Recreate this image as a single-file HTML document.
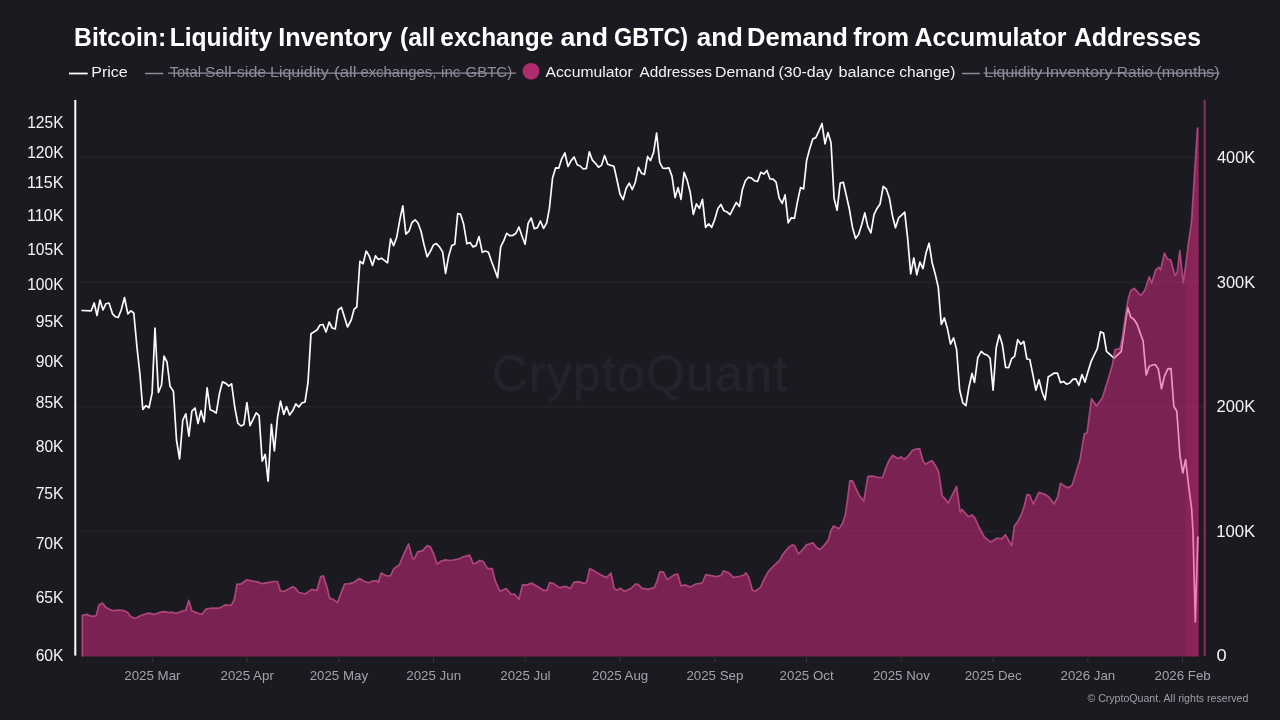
<!DOCTYPE html>
<html lang="en"><head><meta charset="utf-8"><title>Bitcoin: Liquidity Inventory and Demand from Accumulator Addresses</title>
<style>
html,body{margin:0;padding:0;background:#1b1a20;}
body{width:1280px;height:720px;overflow:hidden;font-family:"Liberation Sans",sans-serif;}
svg{display:block}
text{font-family:"Liberation Sans",sans-serif;}
.title{font-size:25.8px;font-weight:700;fill:#ffffff;}
.leg{font-size:15.3px;fill:#f2f2f4;}
.legoff{font-size:15.3px;fill:#8d8c9c;}
.yl{font-size:16px;fill:#f4f4f6;}
.yl2{font-size:16.2px;fill:#f4f4f6;}
.xl{font-size:13.3px;fill:#a3a2aa;}
.foot{font-size:10.6px;fill:#a09fa8;}
.wm{font-size:50px;fill:#23232c;stroke:#23232c;stroke-width:0.8px;letter-spacing:1.2px;}
</style></head><body>
<svg width="1280" height="720" viewBox="0 0 1280 720">
<rect width="1280" height="720" fill="#1b1a20"/>
<g id="title">
<text class="title" x="74.12" y="45.6" textLength="92.05" lengthAdjust="spacingAndGlyphs">Bitcoin:</text>
<text class="title" x="169.63" y="45.6" textLength="102.55" lengthAdjust="spacingAndGlyphs">Liquidity</text>
<text class="title" x="278.33" y="45.6" textLength="113.79" lengthAdjust="spacingAndGlyphs">Inventory</text>
<text class="title" x="400.01" y="45.6" textLength="35.43" lengthAdjust="spacingAndGlyphs">(all</text>
<text class="title" x="440.30" y="45.6" textLength="112.98" lengthAdjust="spacingAndGlyphs">exchange</text>
<text class="title" x="560.53" y="45.6" textLength="47.45" lengthAdjust="spacingAndGlyphs">and</text>
<text class="title" x="614.09" y="45.6" textLength="74.07" lengthAdjust="spacingAndGlyphs">GBTC)</text>
<text class="title" x="696.80" y="45.6" textLength="46.13" lengthAdjust="spacingAndGlyphs">and</text>
<text class="title" x="747.07" y="45.6" textLength="100.86" lengthAdjust="spacingAndGlyphs">Demand</text>
<text class="title" x="853.36" y="45.6" textLength="55.63" lengthAdjust="spacingAndGlyphs">from</text>
<text class="title" x="914.42" y="45.6" textLength="152.12" lengthAdjust="spacingAndGlyphs">Accumulator</text>
<text class="title" x="1073.92" y="45.6" textLength="127.07" lengthAdjust="spacingAndGlyphs">Addresses</text>
</g>
<g id="legend">
<line x1="69" y1="73.5" x2="87.7" y2="73.5" stroke="#ffffff" stroke-width="1.8"/>
<text class="leg" x="91.24" y="77.4" textLength="36.55" lengthAdjust="spacingAndGlyphs">Price</text>
<text class="leg" x="545.50" y="77.4" textLength="87.24" lengthAdjust="spacingAndGlyphs">Accumulator</text>
<text class="leg" x="639.50" y="77.4" textLength="72.34" lengthAdjust="spacingAndGlyphs">Addresses</text>
<text class="leg" x="715.01" y="77.4" textLength="59.81" lengthAdjust="spacingAndGlyphs">Demand</text>
<text class="leg" x="778.56" y="77.4" textLength="54.02" lengthAdjust="spacingAndGlyphs">(30-day</text>
<text class="leg" x="838.44" y="77.4" textLength="56.80" lengthAdjust="spacingAndGlyphs">balance</text>
<text class="leg" x="899.39" y="77.4" textLength="56.01" lengthAdjust="spacingAndGlyphs">change)</text>
<line x1="145" y1="73.5" x2="163.3" y2="73.5" stroke="#8d8c9c" stroke-width="1.5"/>
<text class="legoff" x="169.71" y="77.4" textLength="31.28" lengthAdjust="spacingAndGlyphs">Total</text>
<text class="legoff" x="204.77" y="77.4" textLength="61.44" lengthAdjust="spacingAndGlyphs">Sell-side</text>
<text class="legoff" x="269.99" y="77.4" textLength="58.79" lengthAdjust="spacingAndGlyphs">Liquidity</text>
<text class="legoff" x="334.00" y="77.4" textLength="22.61" lengthAdjust="spacingAndGlyphs">(all</text>
<text class="legoff" x="360.42" y="77.4" textLength="75.90" lengthAdjust="spacingAndGlyphs">exchanges,</text>
<text class="legoff" x="441.01" y="77.4" textLength="19.45" lengthAdjust="spacingAndGlyphs">inc</text>
<text class="legoff" x="465.47" y="77.4" textLength="46.66" lengthAdjust="spacingAndGlyphs">GBTC)</text>
<text class="legoff" x="984.25" y="77.4" textLength="58.28" lengthAdjust="spacingAndGlyphs">Liquidity</text>
<text class="legoff" x="1045.51" y="77.4" textLength="67.03" lengthAdjust="spacingAndGlyphs">Inventory</text>
<text class="legoff" x="1116.78" y="77.4" textLength="36.35" lengthAdjust="spacingAndGlyphs">Ratio</text>
<text class="legoff" x="1156.56" y="77.4" textLength="63.10" lengthAdjust="spacingAndGlyphs">(months)</text>
<line x1="168" y1="73.2" x2="516" y2="73.2" stroke="#8d8c9c" stroke-width="1.2"/>
<circle cx="531" cy="71.3" r="8.4" fill="#ac2d6d"/>
<line x1="962" y1="73.5" x2="980" y2="73.5" stroke="#8d8c9c" stroke-width="1.5"/>
<line x1="983.5" y1="73.2" x2="1219.5" y2="73.2" stroke="#8d8c9c" stroke-width="1.2"/>
</g>
<g stroke="#232229" stroke-width="1.6">
<line x1="77" y1="157.3" x2="1203" y2="157.3"/>
<line x1="77" y1="282.3" x2="1203" y2="282.3"/>
<line x1="77" y1="406.8" x2="1203" y2="406.8"/>
<line x1="77" y1="531.4" x2="1203" y2="531.4"/>
</g>
<text class="wm" x="640" y="390.5" text-anchor="middle">CryptoQuant</text>
<polyline fill="none" stroke="#fbfbfd" stroke-width="1.7" stroke-linejoin="round" stroke-linecap="round" points="82.0,310.5 91.2,310.8 94.2,303.0 97.0,315.5 100.0,300.0 103.0,310.0 105.8,303.8 109.0,303.0 112.5,313.8 115.5,316.8 118.2,317.5 121.2,310.0 124.5,297.5 127.8,313.8 130.8,310.8 133.8,313.0 137.0,347.5 140.0,375.0 142.8,409.4 145.9,405.6 149.0,407.8 152.1,393.1 155.0,328.0 158.4,392.5 161.5,385.0 164.0,356.2 167.0,362.0 170.0,386.2 173.4,391.2 176.5,440.0 179.6,459.0 182.8,420.0 185.8,413.8 188.9,436.2 191.9,411.2 195.0,408.0 198.0,423.5 201.0,410.6 204.1,421.9 207.1,387.8 210.2,409.8 213.2,411.0 216.2,413.1 219.4,393.8 222.5,381.9 225.5,383.1 228.8,386.0 231.6,383.8 234.8,407.5 237.8,423.1 240.9,426.0 243.9,424.4 246.9,402.5 250.0,425.6 253.1,419.4 256.2,412.8 259.1,415.6 262.2,461.2 265.2,454.4 268.1,481.2 271.4,424.4 274.4,450.8 277.5,417.5 280.5,401.2 283.8,414.4 286.5,406.5 289.6,415.0 292.8,410.6 295.8,403.8 298.8,407.0 301.8,403.0 305.0,402.0 308.0,382.5 311.0,333.8 317.0,330.0 320.0,325.0 323.0,324.5 326.0,332.0 329.2,322.0 332.2,328.0 335.2,329.0 338.2,310.0 341.5,307.5 347.5,327.0 351.2,320.0 354.1,309.2 356.8,307.0 359.9,261.3 363.1,263.7 366.2,251.0 369.2,255.9 372.5,265.5 375.4,255.9 378.3,259.5 381.4,258.2 384.4,260.4 387.5,262.8 390.6,238.8 393.6,245.6 396.7,237.3 399.8,219.8 402.8,205.9 405.9,234.2 409.0,231.2 412.0,222.5 415.1,219.8 418.0,223.0 421.1,231.5 424.1,245.1 427.2,256.8 430.3,251.4 433.4,245.1 436.4,243.6 439.5,246.9 442.6,251.9 445.6,273.4 448.7,255.9 451.8,245.6 454.8,244.2 457.7,213.5 460.6,214.4 463.7,224.3 466.9,243.8 470.0,242.4 473.1,246.9 476.1,245.6 479.0,236.6 482.3,252.3 485.4,251.0 488.4,252.3 491.5,261.3 494.6,269.5 497.6,277.6 500.7,246.9 503.8,240.6 506.7,233.3 509.7,235.7 512.8,235.5 515.9,233.3 518.9,227.0 522.0,236.0 525.1,244.2 528.1,223.4 531.2,218.0 534.3,228.8 537.4,227.6 540.4,221.0 543.6,228.3 546.7,222.9 549.4,208.4 552.6,177.7 555.7,167.8 558.8,168.1 561.7,158.8 564.9,153.0 568.0,166.5 571.1,160.6 574.1,157.0 577.2,164.7 580.1,166.0 583.3,169.0 586.4,168.3 589.3,151.9 592.4,160.2 595.4,163.3 598.5,167.2 601.6,165.1 604.6,155.5 607.7,164.2 610.8,165.4 613.9,166.3 616.9,179.5 620.0,194.0 623.1,199.7 626.1,188.5 629.2,183.1 632.3,189.5 635.3,182.2 638.4,167.4 641.5,173.2 644.5,174.5 647.6,156.4 650.5,160.6 653.6,152.4 656.6,133.1 659.7,162.4 662.8,168.1 665.9,168.3 668.9,167.8 672.0,176.4 675.1,197.6 678.1,187.6 681.0,199.4 684.1,172.3 687.2,180.4 690.2,192.2 693.3,214.4 696.4,203.9 699.4,208.4 702.5,199.4 705.6,227.4 708.7,223.8 711.7,227.4 714.8,219.2 717.9,208.4 720.9,204.4 724.0,210.8 727.1,212.0 730.1,214.7 733.2,208.4 736.3,202.5 739.4,206.6 742.4,189.5 745.4,180.8 748.5,177.2 751.6,178.1 754.6,180.8 757.7,181.3 760.8,172.3 763.8,174.1 766.9,170.5 770.0,179.0 773.0,179.2 776.1,182.2 779.2,198.1 782.2,203.4 785.1,194.9 788.2,222.9 791.3,217.8 794.4,218.3 797.4,202.1 800.5,187.6 803.6,188.9 806.6,160.6 809.7,148.8 812.8,138.9 815.8,137.6 818.9,130.8 822.0,123.5 825.0,143.8 827.9,132.6 831.0,142.5 834.1,198.5 837.1,210.2 840.2,183.1 843.3,182.2 846.4,195.8 849.4,209.3 852.5,227.4 855.6,238.6 858.6,234.6 861.7,224.7 864.8,212.9 867.8,226.5 870.9,232.8 874.0,214.7 877.0,208.4 880.1,203.9 883.2,186.3 886.3,189.0 889.4,198.0 892.5,216.1 895.5,227.8 898.6,217.9 901.7,215.2 904.7,212.1 907.6,237.8 910.7,273.9 913.8,258.0 916.8,274.8 919.9,262.2 923.0,268.5 926.0,253.1 929.1,243.2 932.2,263.1 935.2,273.9 938.3,287.4 941.3,324.3 944.4,318.0 947.5,328.8 950.5,344.2 953.6,337.9 956.6,349.6 959.7,390.2 962.8,402.9 965.9,405.6 968.9,387.5 972.0,373.4 974.5,382.5 977.8,357.7 981.2,351.4 984.3,354.1 987.2,355.0 990.1,358.3 993.1,390.2 996.2,347.8 999.3,334.8 1002.3,344.2 1005.6,367.3 1008.7,367.6 1011.7,358.6 1014.6,356.4 1017.7,339.7 1020.8,344.2 1023.8,341.5 1026.9,359.0 1029.8,359.5 1032.9,374.9 1035.9,390.2 1039.0,379.7 1042.1,392.0 1045.1,399.8 1048.2,377.0 1051.3,374.9 1054.3,373.1 1057.4,373.1 1060.5,382.6 1063.5,381.5 1066.6,384.2 1069.7,383.0 1072.8,379.4 1075.8,378.8 1078.9,385.3 1082.0,374.5 1085.0,382.1 1088.1,371.2 1091.2,361.3 1094.2,355.0 1097.3,348.7 1100.4,331.9 1103.5,333.0 1106.5,351.4 1109.6,354.1 1112.7,357.0 1114.3,358.2 1117.8,354.6 1121.3,351.5 1124.7,327.0 1127.7,307.5 1130.6,317.0 1133.8,319.2 1137.0,324.0 1140.0,332.5 1143.1,341.0 1146.2,375.0 1149.3,366.2 1152.5,365.0 1155.3,364.5 1158.3,369.0 1161.5,388.8 1164.5,376.2 1167.8,368.8 1171.0,368.6 1173.8,406.2 1176.8,411.2 1180.0,456.0 1182.8,473.0 1185.6,459.5 1188.8,487.2 1191.7,509.4 1193.0,531.7 1195.3,622.0 1197.8,537.2"/>
<polygon fill="#df2a84" fill-opacity="0.49" points="82.3,656.4 82.3,615.4 87.2,614.3 90.2,616.1 96.2,615.8 98.9,604.9 102.5,603.1 106.1,607.6 112.4,610.7 118.8,610.0 124.2,610.7 127.4,612.2 130.5,616.3 135.0,618.5 141.3,615.2 148.5,613.1 154.9,614.3 161.2,611.8 164.8,611.6 168.4,612.5 172.0,612.2 176.5,613.4 181.9,611.2 185.6,610.4 188.8,600.4 191.9,610.7 197.3,613.1 201.8,614.3 206.3,608.9 212.7,608.0 219.0,608.2 225.3,604.9 231.2,605.5 234.3,599.5 237.0,584.2 240.6,584.2 246.9,579.7 252.4,581.1 257.8,581.8 261.4,583.6 267.7,582.7 273.1,581.5 277.6,581.5 280.4,590.9 284.0,591.4 289.0,588.8 292.6,586.7 295.3,588.1 299.0,592.5 305.3,593.9 311.6,589.4 317.0,590.3 320.6,576.7 323.3,575.8 326.9,586.7 329.7,598.4 333.3,599.3 337.4,602.6 341.4,592.1 344.6,584.0 349.5,583.6 354.0,582.2 359.4,578.5 364.0,581.2 368.5,582.7 372.1,581.2 376.6,580.7 378.4,582.2 381.1,573.1 385.6,575.5 390.5,575.8 393.8,568.6 399.2,565.0 404.6,552.4 408.6,543.9 412.7,558.7 414.5,558.7 417.6,551.8 422.6,550.6 427.2,545.7 430.2,546.6 433.5,553.3 437.1,564.1 440.7,561.4 445.2,559.9 450.6,560.5 457.9,559.2 464.2,556.5 469.6,555.1 473.2,563.7 475.9,563.2 479.5,560.5 483.1,561.4 487.7,568.6 491.3,568.6 492.2,568.6 495.4,581.2 499.9,591.2 506.2,588.5 511.7,594.8 514.4,593.9 518.9,599.3 522.5,584.9 527.0,584.9 531.5,583.1 537.9,586.7 543.3,590.3 546.9,590.3 549.6,582.7 553.2,583.4 559.5,587.6 565.8,586.3 570.4,588.5 574.0,582.2 578.5,581.6 583.9,583.4 586.6,582.2 589.7,568.6 594.7,571.3 601.0,574.9 606.5,577.6 611.0,573.1 614.2,588.5 617.3,590.3 620.0,588.1 624.5,591.2 630.9,588.5 635.4,584.0 638.1,584.3 641.7,588.1 648.0,589.4 654.3,587.6 657.0,581.2 659.7,571.9 663.4,571.9 667.0,579.5 671.5,576.7 674.5,574.6 677.8,574.0 681.0,585.8 685.0,584.9 690.4,587.0 695.9,584.0 701.3,583.1 702.7,582.0 705.8,574.7 710.8,575.6 716.2,576.5 720.8,575.6 723.5,570.8 728.9,572.9 733.4,577.4 738.8,576.5 743.3,575.3 746.0,572.9 748.8,577.4 752.4,590.1 755.1,591.3 760.5,587.4 764.1,579.2 768.6,571.1 774.0,565.7 779.5,560.3 783.1,554.0 788.5,547.6 792.1,544.9 794.8,545.8 798.4,554.0 802.0,550.4 806.5,544.9 812.9,542.8 816.5,547.6 820.1,549.5 824.6,544.9 828.2,540.4 830.9,530.5 833.6,526.0 839.0,528.7 842.6,523.3 845.4,514.2 847.2,501.6 849.9,480.8 852.6,480.8 856.2,489.0 859.8,496.2 863.8,500.8 865.9,488.0 868.0,476.3 873.4,476.2 878.1,477.5 882.5,477.5 884.2,472.7 886.2,467.0 888.9,460.7 892.5,455.3 897.9,458.5 901.2,456.7 904.2,459.4 907.9,456.2 912.4,450.2 916.0,449.0 919.6,448.6 923.2,461.6 925.9,464.3 929.5,461.6 932.2,460.7 935.8,466.1 938.5,471.5 942.2,495.9 944.9,498.6 948.1,503.1 956.6,486.5 960.2,512.2 962.0,509.4 968.3,516.7 972.0,514.9 974.7,517.6 979.2,527.5 984.6,537.4 990.9,542.0 997.2,538.0 1001.8,538.9 1005.4,534.7 1009.0,541.0 1011.7,545.6 1014.4,525.7 1018.0,521.2 1021.6,514.0 1024.3,505.8 1027.0,494.6 1029.7,495.0 1033.3,504.0 1038.8,492.3 1044.2,494.1 1048.7,496.8 1054.1,504.0 1057.7,496.8 1060.4,483.3 1065.8,486.9 1068.6,487.8 1072.2,485.1 1075.8,473.3 1080.0,459.8 1084.3,433.9 1087.0,433.0 1091.5,398.7 1096.6,405.9 1102.4,397.8 1107.8,380.6 1112.3,365.3 1115.0,349.5 1120.0,348.7 1122.5,336.7 1125.8,313.3 1128.3,298.3 1130.8,290.8 1134.2,288.3 1137.5,291.7 1140.8,295.8 1145.0,290.0 1149.2,276.7 1151.7,283.3 1155.6,270.0 1158.8,267.2 1160.6,270.0 1164.4,253.2 1167.5,259.0 1170.7,260.0 1175.0,275.3 1177.2,273.0 1179.8,250.5 1183.2,282.8 1185.6,266.0 1188.6,242.0 1191.5,222.0 1194.8,170.0 1197.6,127.5 1198.7,127.5 1198.7,656.4"/>
<defs><linearGradient id="eb" x1="0" x2="1" y1="0" y2="0"><stop offset="0" stop-color="#e0307f" stop-opacity="0.10"/><stop offset="1" stop-color="#e0307f" stop-opacity="0.17"/></linearGradient></defs>
<polygon fill="url(#eb)" points="1185.6,656.4 1185.6,266 1188.6,242 1191.5,222 1194.75,170 1197.6,127.5 1198.7,127.5 1198.7,656.4"/>
<polyline fill="none" stroke="#c4508c" stroke-opacity="0.8" stroke-width="1.7" stroke-linejoin="round" points="82.3,656.4 82.3,615.4 87.2,614.3 90.2,616.1 96.2,615.8 98.9,604.9 102.5,603.1 106.1,607.6 112.4,610.7 118.8,610.0 124.2,610.7 127.4,612.2 130.5,616.3 135.0,618.5 141.3,615.2 148.5,613.1 154.9,614.3 161.2,611.8 164.8,611.6 168.4,612.5 172.0,612.2 176.5,613.4 181.9,611.2 185.6,610.4 188.8,600.4 191.9,610.7 197.3,613.1 201.8,614.3 206.3,608.9 212.7,608.0 219.0,608.2 225.3,604.9 231.2,605.5 234.3,599.5 237.0,584.2 240.6,584.2 246.9,579.7 252.4,581.1 257.8,581.8 261.4,583.6 267.7,582.7 273.1,581.5 277.6,581.5 280.4,590.9 284.0,591.4 289.0,588.8 292.6,586.7 295.3,588.1 299.0,592.5 305.3,593.9 311.6,589.4 317.0,590.3 320.6,576.7 323.3,575.8 326.9,586.7 329.7,598.4 333.3,599.3 337.4,602.6 341.4,592.1 344.6,584.0 349.5,583.6 354.0,582.2 359.4,578.5 364.0,581.2 368.5,582.7 372.1,581.2 376.6,580.7 378.4,582.2 381.1,573.1 385.6,575.5 390.5,575.8 393.8,568.6 399.2,565.0 404.6,552.4 408.6,543.9 412.7,558.7 414.5,558.7 417.6,551.8 422.6,550.6 427.2,545.7 430.2,546.6 433.5,553.3 437.1,564.1 440.7,561.4 445.2,559.9 450.6,560.5 457.9,559.2 464.2,556.5 469.6,555.1 473.2,563.7 475.9,563.2 479.5,560.5 483.1,561.4 487.7,568.6 491.3,568.6 492.2,568.6 495.4,581.2 499.9,591.2 506.2,588.5 511.7,594.8 514.4,593.9 518.9,599.3 522.5,584.9 527.0,584.9 531.5,583.1 537.9,586.7 543.3,590.3 546.9,590.3 549.6,582.7 553.2,583.4 559.5,587.6 565.8,586.3 570.4,588.5 574.0,582.2 578.5,581.6 583.9,583.4 586.6,582.2 589.7,568.6 594.7,571.3 601.0,574.9 606.5,577.6 611.0,573.1 614.2,588.5 617.3,590.3 620.0,588.1 624.5,591.2 630.9,588.5 635.4,584.0 638.1,584.3 641.7,588.1 648.0,589.4 654.3,587.6 657.0,581.2 659.7,571.9 663.4,571.9 667.0,579.5 671.5,576.7 674.5,574.6 677.8,574.0 681.0,585.8 685.0,584.9 690.4,587.0 695.9,584.0 701.3,583.1 702.7,582.0 705.8,574.7 710.8,575.6 716.2,576.5 720.8,575.6 723.5,570.8 728.9,572.9 733.4,577.4 738.8,576.5 743.3,575.3 746.0,572.9 748.8,577.4 752.4,590.1 755.1,591.3 760.5,587.4 764.1,579.2 768.6,571.1 774.0,565.7 779.5,560.3 783.1,554.0 788.5,547.6 792.1,544.9 794.8,545.8 798.4,554.0 802.0,550.4 806.5,544.9 812.9,542.8 816.5,547.6 820.1,549.5 824.6,544.9 828.2,540.4 830.9,530.5 833.6,526.0 839.0,528.7 842.6,523.3 845.4,514.2 847.2,501.6 849.9,480.8 852.6,480.8 856.2,489.0 859.8,496.2 863.8,500.8 865.9,488.0 868.0,476.3 873.4,476.2 878.1,477.5 882.5,477.5 884.2,472.7 886.2,467.0 888.9,460.7 892.5,455.3 897.9,458.5 901.2,456.7 904.2,459.4 907.9,456.2 912.4,450.2 916.0,449.0 919.6,448.6 923.2,461.6 925.9,464.3 929.5,461.6 932.2,460.7 935.8,466.1 938.5,471.5 942.2,495.9 944.9,498.6 948.1,503.1 956.6,486.5 960.2,512.2 962.0,509.4 968.3,516.7 972.0,514.9 974.7,517.6 979.2,527.5 984.6,537.4 990.9,542.0 997.2,538.0 1001.8,538.9 1005.4,534.7 1009.0,541.0 1011.7,545.6 1014.4,525.7 1018.0,521.2 1021.6,514.0 1024.3,505.8 1027.0,494.6 1029.7,495.0 1033.3,504.0 1038.8,492.3 1044.2,494.1 1048.7,496.8 1054.1,504.0 1057.7,496.8 1060.4,483.3 1065.8,486.9 1068.6,487.8 1072.2,485.1 1075.8,473.3 1080.0,459.8 1084.3,433.9 1087.0,433.0 1091.5,398.7 1096.6,405.9 1102.4,397.8 1107.8,380.6 1112.3,365.3 1115.0,349.5 1120.0,348.7 1122.5,336.7 1125.8,313.3 1128.3,298.3 1130.8,290.8 1134.2,288.3 1137.5,291.7 1140.8,295.8 1145.0,290.0 1149.2,276.7 1151.7,283.3 1155.6,270.0 1158.8,267.2 1160.6,270.0 1164.4,253.2 1167.5,259.0 1170.7,260.0 1175.0,275.3 1177.2,273.0 1179.8,250.5 1183.2,282.8 1185.6,266.0 1188.6,242.0 1191.5,222.0 1194.8,170.0 1197.6,127.5"/>
<rect x="74.3" y="100" width="2.0" height="555.6" fill="#ffffff"/>
<rect x="1203.6" y="100" width="2.2" height="556" fill="#822e5c"/>
<g stroke="#34333b" stroke-width="1">
<line x1="152.3" y1="656.5" x2="152.3" y2="662"/>
<line x1="247.1" y1="656.5" x2="247.1" y2="662"/>
<line x1="338.8" y1="656.5" x2="338.8" y2="662"/>
<line x1="433.6" y1="656.5" x2="433.6" y2="662"/>
<line x1="525.3" y1="656.5" x2="525.3" y2="662"/>
<line x1="620.0" y1="656.5" x2="620.0" y2="662"/>
<line x1="714.8" y1="656.5" x2="714.8" y2="662"/>
<line x1="806.5" y1="656.5" x2="806.5" y2="662"/>
<line x1="901.3" y1="656.5" x2="901.3" y2="662"/>
<line x1="993.0" y1="656.5" x2="993.0" y2="662"/>
<line x1="1087.8" y1="656.5" x2="1087.8" y2="662"/>
<line x1="1182.5" y1="656.5" x2="1182.5" y2="662"/>
</g>
<g class="yl2">
<text x="27.15" y="127.9" textLength="36.38" lengthAdjust="spacingAndGlyphs">125K</text>
<text x="27.15" y="157.5" textLength="36.38" lengthAdjust="spacingAndGlyphs">120K</text>
<text x="27.11" y="188.4" textLength="36.42" lengthAdjust="spacingAndGlyphs">115K</text>
<text x="27.11" y="220.7" textLength="36.42" lengthAdjust="spacingAndGlyphs">110K</text>
<text x="27.15" y="254.5" textLength="36.38" lengthAdjust="spacingAndGlyphs">105K</text>
<text x="27.15" y="289.9" textLength="36.38" lengthAdjust="spacingAndGlyphs">100K</text>
<text x="35.73" y="327.2" textLength="27.79" lengthAdjust="spacingAndGlyphs">95K</text>
<text x="35.73" y="366.5" textLength="27.79" lengthAdjust="spacingAndGlyphs">90K</text>
<text x="35.73" y="408.0" textLength="27.79" lengthAdjust="spacingAndGlyphs">85K</text>
<text x="35.73" y="452.0" textLength="27.79" lengthAdjust="spacingAndGlyphs">80K</text>
<text x="35.63" y="498.9" textLength="27.89" lengthAdjust="spacingAndGlyphs">75K</text>
<text x="35.63" y="549.0" textLength="27.89" lengthAdjust="spacingAndGlyphs">70K</text>
<text x="35.63" y="602.8" textLength="27.89" lengthAdjust="spacingAndGlyphs">65K</text>
<text x="35.63" y="660.9" textLength="27.89" lengthAdjust="spacingAndGlyphs">60K</text>
</g>
<g class="yl">
<text x="1216.99" y="162.9" textLength="38.18" lengthAdjust="spacingAndGlyphs">400K</text>
<text x="1216.78" y="287.9" textLength="38.39" lengthAdjust="spacingAndGlyphs">300K</text>
<text x="1216.57" y="412.4" textLength="38.60" lengthAdjust="spacingAndGlyphs">200K</text>
<text x="1216.15" y="537.0" textLength="39.03" lengthAdjust="spacingAndGlyphs">100K</text>
<text x="1216.61" y="660.6" textLength="10.17" lengthAdjust="spacingAndGlyphs">0</text>
</g>
<g class="xl" text-anchor="middle">
<text x="152.4" y="680.4">2025 Mar</text>
<text x="247.2" y="680.4">2025 Apr</text>
<text x="338.9" y="680.4">2025 May</text>
<text x="433.7" y="680.4">2025 Jun</text>
<text x="525.4" y="680.4">2025 Jul</text>
<text x="620.1" y="680.4">2025 Aug</text>
<text x="714.9" y="680.4">2025 Sep</text>
<text x="806.6" y="680.4">2025 Oct</text>
<text x="901.4" y="680.4">2025 Nov</text>
<text x="993.1" y="680.4">2025 Dec</text>
<text x="1087.9" y="680.4">2026 Jan</text>
<text x="1182.6" y="680.4">2026 Feb</text>
</g>
<text class="foot" x="1248.3" y="702" text-anchor="end">© CryptoQuant. All rights reserved</text>
</svg></body></html>
